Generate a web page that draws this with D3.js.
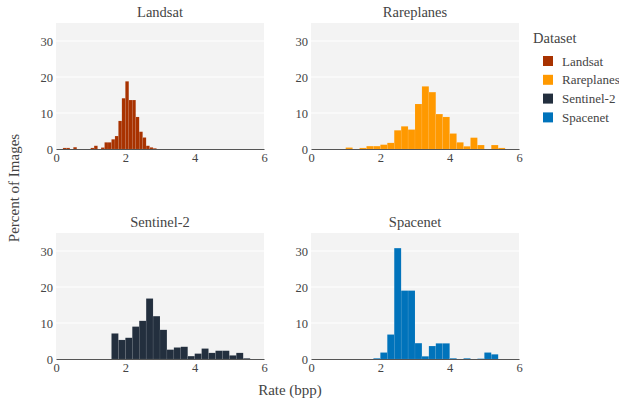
<!DOCTYPE html>
<html>
<head>
<meta charset="utf-8">
<script src="https://cdn.jsdelivr.net/npm/d3@7"></script>
<style>
  html, body { margin: 0; padding: 0; background: #fff; }
  svg { display: block; font-family: "Liberation Serif", "Times New Roman", serif; }
  svg text { font-family: "Liberation Serif", "Times New Roman", serif; }
</style>
</head>
<body>
<svg id="chart" width="619" height="400"></svg>
<script>
// Histogram bins: left edge of each bin (bpp) and share of images (%)
const datasets = ["Landsat", "Rareplanes", "Sentinel-2", "Spacenet"];
const colors = ["#a83200", "#ff9900", "#232f3e", "#0073bb"];

const landsatBinStart = [0.2, 0.3, 0.5, 1.0, 1.1, 1.3, 1.4, 1.5, 1.6, 1.7, 1.8, 1.9, 2.0, 2.1, 2.2, 2.3, 2.4, 2.5, 2.6, 2.7, 2.8];
const landsatPct      = [0.3, 0.3, 0.5, 0.3, 0.9, 0.4, 1.85, 1.85, 2.7, 3.6, 7.8, 14.1, 18.8, 13.6, 13.6, 8.9, 4.8, 3.2, 0.9, 0.45, 0.2];
const landsatBinWidth = 0.1;

const rareplanesBinStart = [1.0, 1.4, 1.6, 1.8, 2.0, 2.2, 2.4, 2.6, 2.8, 3.0, 3.2, 3.4, 3.6, 3.8, 4.0, 4.2, 4.4, 4.6, 4.8, 5.2, 5.4];
const rareplanesPct      = [0.4, 0.3, 0.8, 0.8, 1.2, 1.7, 5.2, 6.3, 5.4, 12.5, 17.4, 15.8, 9.7, 8.9, 4.3, 1.85, 0.75, 3.15, 1.1, 1.1, 0.3];
const rareplanesBinWidth = 0.2;

const sentinelBinStart = [1.6, 1.8, 2.0, 2.2, 2.4, 2.6, 2.8, 3.0, 3.2, 3.4, 3.6, 3.8, 4.0, 4.2, 4.4, 4.6, 4.8, 5.0, 5.2, 5.4];
const sentinelPct      = [7.1, 5.3, 5.9, 9.0, 10.6, 16.8, 11.9, 8.1, 2.6, 3.2, 3.4, 0.8, 1.5, 2.9, 1.7, 2.3, 2.3, 1.0, 1.7, 0.2];
const sentinelBinWidth = 0.2;

const spacenetBinStart = [1.8, 2.0, 2.2, 2.4, 2.6, 2.8, 3.0, 3.2, 3.4, 3.6, 3.8, 4.0, 4.4, 4.8, 5.0, 5.2];
const spacenetPct      = [0.2, 1.8, 6.8, 30.8, 19.0, 19.0, 4.4, 0.75, 3.6, 4.35, 4.35, 0.2, 0.2, 0.1, 1.8, 1.3];
const spacenetBinWidth = 0.2;

const xTicks = [0, 2, 4, 6];
const yTicks = [0, 10, 20, 30];
const xDomain = [0, 6];
const yDomain = [0, 35];

const panels = [
  { name: "Landsat",    starts: landsatBinStart,    pct: landsatPct,    width: landsatBinWidth,    color: colors[0], col: 0, row: 0 },
  { name: "Rareplanes", starts: rareplanesBinStart, pct: rareplanesPct, width: rareplanesBinWidth, color: colors[1], col: 1, row: 0 },
  { name: "Sentinel-2", starts: sentinelBinStart,   pct: sentinelPct,   width: sentinelBinWidth,   color: colors[2], col: 0, row: 1 },
  { name: "Spacenet",   starts: spacenetBinStart,   pct: spacenetPct,   width: spacenetBinWidth,   color: colors[3], col: 1, row: 1 }
];

const svg = d3.select("#chart");
const textColor = "#444";
const serif = "'Liberation Serif', 'Times New Roman', serif";

// facet grid geometry
const colLeft = [56, 311];
const rowTop = [23, 233];
const plotW = 208;
const plotH = 126;

panels.forEach(p => {
  const x0 = colLeft[p.col], y0 = rowTop[p.row];
  const x = d3.scaleLinear().domain(xDomain).range([x0, x0 + plotW]);
  const y = d3.scaleLinear().domain(yDomain).range([y0 + plotH, y0]);
  const g = svg.append("g");

  // panel background
  g.append("rect")
    .attr("x", x0).attr("y", y0)
    .attr("width", plotW).attr("height", plotH)
    .attr("fill", "#f3f3f3");

  // horizontal gridlines
  g.selectAll("line.grid")
    .data(yTicks.filter(t => t > 0))
    .join("line")
    .attr("x1", x0).attr("x2", x0 + plotW)
    .attr("y1", d => y(d)).attr("y2", d => y(d))
    .attr("stroke", "#fff").attr("stroke-width", 1);

  // histogram bars
  const bins = p.starts.map((s, i) => ({ x0: s, x1: s + p.width, v: p.pct[i] }));
  g.selectAll("rect.bar")
    .data(bins)
    .join("rect")
    .attr("class", "bar")
    .attr("x", d => x(d.x0))
    .attr("width", d => x(d.x1) - x(d.x0))
    .attr("y", d => y(d.v))
    .attr("height", d => y(0) - y(d.v))
    .attr("fill", p.color)
    .attr("stroke", "rgba(255,255,255,0.18)")
    .attr("stroke-width", 0.4);

  // x axis
  const xAxis = g.append("g")
    .attr("transform", `translate(0,${y0 + plotH})`)
    .call(d3.axisBottom(x).tickValues(xTicks).tickSize(0).tickPadding(4).tickFormat(d3.format("d")))
    .attr("font-family", serif)
    .attr("font-size", 12.5);
  xAxis.select(".domain").attr("stroke", "#555").attr("stroke-width", 1.2);
  xAxis.selectAll("text").attr("fill", textColor);

  // y axis
  const yAxis = g.append("g")
    .attr("transform", `translate(${x0},0)`)
    .call(d3.axisLeft(y).tickValues(yTicks).tickSize(0).tickPadding(3).tickFormat(d3.format("d")))
    .attr("font-family", serif)
    .attr("font-size", 12.5);
  yAxis.select(".domain").remove();
  yAxis.selectAll("text").attr("fill", textColor);

  // facet title
  svg.append("text")
    .attr("x", x0 + plotW / 2)
    .attr("y", y0 - 6)
    .attr("text-anchor", "middle")
    .attr("fill", textColor)
    .attr("font-family", serif)
    .attr("font-size", 14.5)
    .text(p.name);
});

// shared axis titles
svg.append("text")
  .attr("x", 290).attr("y", 395)
  .attr("text-anchor", "middle")
  .attr("fill", textColor)
  .attr("font-family", serif)
  .attr("font-size", 15)
  .text("Rate (bpp)");

svg.append("text")
  .attr("transform", "translate(19,188) rotate(-90)")
  .attr("text-anchor", "middle")
  .attr("fill", textColor)
  .attr("font-family", serif)
  .attr("font-size", 15)
  .text("Percent of Images");

// legend
const legend = svg.append("g").attr("transform", "translate(533,0)");
legend.append("text")
  .attr("x", 0).attr("y", 43)
  .attr("fill", textColor)
  .attr("font-family", serif)
  .attr("font-size", 14.5)
  .text("Dataset");

const items = legend.selectAll("g.item")
  .data(datasets)
  .join("g")
  .attr("class", "item")
  .attr("transform", (d, i) => `translate(0,${61 + i * 18.8})`);
items.append("rect")
  .attr("x", 10).attr("y", -5)
  .attr("width", 10).attr("height", 10)
  .attr("fill", (d, i) => colors[i]);
items.append("text")
  .attr("x", 29).attr("y", 4.5)
  .attr("fill", textColor)
  .attr("font-family", serif)
  .attr("font-size", 13)
  .text(d => d);
</script>
</body>
</html>
